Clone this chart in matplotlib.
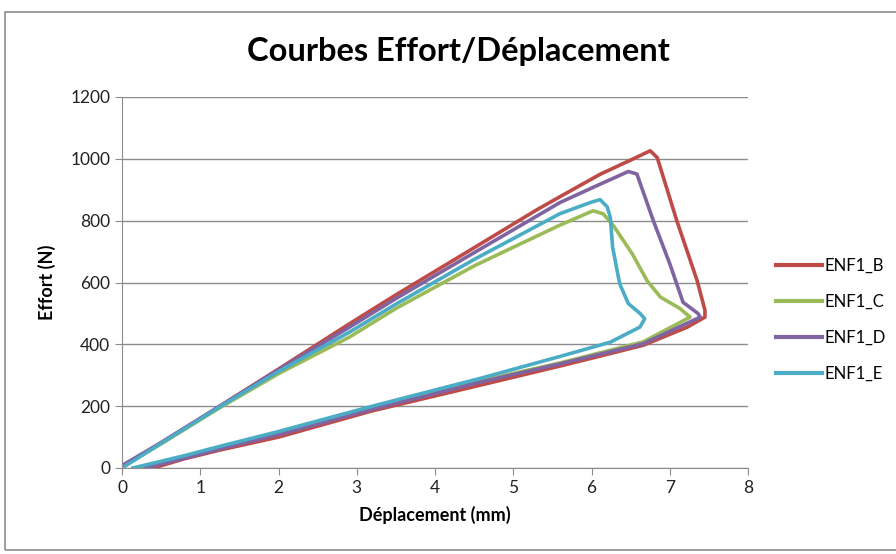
import matplotlib.pyplot as plt
from matplotlib.patches import Rectangle

# Data (Déplacement in mm, Effort in N)
b_x = [0, 0.5, 1.25, 2.0, 2.91, 3.5, 4.51, 5.3, 5.6, 6.11, 6.5, 6.75, 6.84, 7.09, 7.35, 7.45, 7.45,
       7.22, 6.66, 6.0, 5.6, 4.58, 3.2, 2.0, 1.25, 0.8, 0.4]
b_y = [5, 82, 200, 320, 467, 560, 714, 835, 878, 950, 996, 1026, 1004, 800, 606, 510, 488,
       455, 397, 355, 330, 268, 185, 100, 58, 30, 0]

c_x = [0, 0.5, 1.25, 2.0, 2.91, 3.5, 4.51, 5.6, 6.02, 6.15, 6.28, 6.52, 6.71, 6.88, 7.13, 7.26,
       6.66, 5.6, 4.58, 3.2, 2.0, 1.25, 0.8, 0.25]
c_y = [3, 78, 195, 305, 424, 516, 655, 786, 832, 822, 784, 693, 606, 553, 516, 488,
       408, 340, 282, 193, 112, 66, 36, 0]

d_x = [0, 0.5, 1.25, 2.0, 2.91, 3.5, 4.51, 5.6, 6.11, 6.47, 6.58, 6.79, 7.0, 7.17, 7.36, 7.39,
       6.66, 5.6, 4.58, 3.2, 2.0, 1.25, 0.8, 0.3]
d_y = [8, 82, 200, 318, 456, 548, 698, 859, 918, 959, 951, 800, 661, 536, 500, 488,
       402, 337, 278, 190, 108, 62, 32, 0]

e_x = [0, 0.5, 1.25, 2.0, 2.91, 3.5, 4.51, 5.6, 6.0, 6.11, 6.2, 6.24, 6.27, 6.36, 6.47, 6.62, 6.68,
       6.62, 6.24, 5.6, 4.58, 3.2, 2.0, 1.25, 0.8, 0.14]
e_y = [0, 80, 198, 312, 440, 530, 676, 823, 860, 868, 845, 811, 714, 596, 532, 500, 483,
       456, 407, 361, 290, 200, 118, 70, 40, 0]

series = [
    ('ENF1_B', b_x, b_y, '#BE4B48'),
    ('ENF1_C', c_x, c_y, '#9BBB59'),
    ('ENF1_D', d_x, d_y, '#8064A2'),
    ('ENF1_E', e_x, e_y, '#4BACC6'),
]

fig = plt.figure(figsize=(8.96, 5.54), dpi=100)
ax = fig.add_axes([122 / 896, 1 - 468 / 554, 626 / 896, 371 / 554])

for name, xs, ys, col in series:
    ax.plot(xs, ys, color=col, lw=2.6, label=name, solid_joinstyle='round')

ax.set_xlim(0, 8)
ax.set_ylim(0, 1200)
ax.set_xticks(range(0, 9))
ax.set_yticks(range(0, 1201, 200))
ax.grid(axis='y', color='#8c8c8c', lw=1)
ax.set_axisbelow(True)
for s in ['top', 'right']:
    ax.spines[s].set_visible(False)
for s in ['left', 'bottom']:
    ax.spines[s].set_color('#8c8c8c')
ax.tick_params(colors='#8c8c8c', labelcolor='#222222', labelsize=12.5, length=5, direction='out')
for lab in ax.get_xticklabels() + ax.get_yticklabels():
    lab.set_family('Lato')

ax.set_xlabel('Déplacement (mm)', fontsize=13, fontweight='bold', family='Lato', labelpad=7)
ax.set_ylabel('Effort (N)', fontsize=13, fontweight='bold', family='Lato', labelpad=10)

fig.text(0.512, 1 - 51 / 554, 'Courbes Effort/Déplacement', ha='center', va='center',
         fontsize=23.5, fontweight='bold', family='Lato')

ax.legend(loc='center left', bbox_to_anchor=(1.02, 0.4), frameon=False,
          prop={'family': 'Lato', 'size': 12}, handlelength=2.8, handletextpad=0.15,
          labelspacing=1.2)
for line in ax.get_legend().get_lines():
    line.set_linewidth(3)

fig.patches.append(Rectangle((5 / 896, 4 / 554), 1.2, 1 - 16 / 554, transform=fig.transFigure,
                             fill=False, edgecolor='#8c8c8c', lw=1.2))

fig.savefig('out.png', dpi=100)
